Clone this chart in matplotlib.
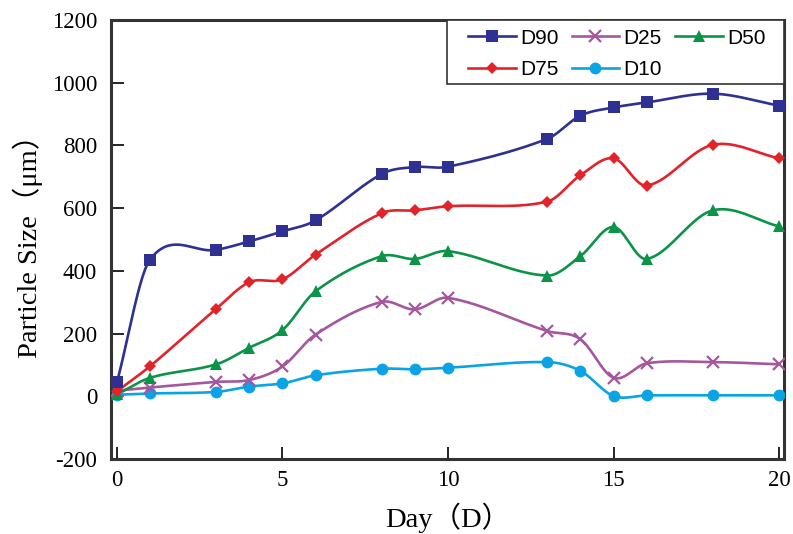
import numpy as np
import matplotlib.pyplot as plt
from matplotlib.patches import Rectangle

plt.rcParams['axes.unicode_minus'] = False

days = [0, 1, 3, 4, 5, 6, 8, 9, 10, 13, 14, 15, 16, 18, 20]
d90 = [45, 436, 467, 494, 526, 561, 709, 731, 732, 821, 895, 921, 937, 965, 927]
d75 = [16, 96, 279, 364, 373, 452, 584, 593, 606, 621, 705, 759, 672, 802, 759]
d50 = [6, 59, 102, 155, 211, 335, 447, 438, 463, 385, 447, 540, 438, 593, 542]
d25 = [18, 28, 46, 52, 95, 197, 301, 277, 314, 208, 182, 59, 105, 109, 102]
d10 = [5, 9, 14, 31, 41, 67, 88, 86, 91, 109, 81, 1, 3, 3, 3]

series = [
    ('D90', d90, '#2e3192', 's', 8.5),
    ('D75', d75, '#e2232a', 'D', 6.5),
    ('D25', d25, '#a4579e', 'x', 9),
    ('D10', d10, '#0aa3e6', 'o', 8.5),
    ('D50', d50, '#0a9447', '^', 9),
]


def smooth(x, y, n=40):
    # cubic hermite through the points, tangents from neighbour differences
    x = np.asarray(x, float)
    y = np.asarray(y, float)
    m = np.zeros_like(y)
    m[1:-1] = (y[2:] - y[:-2]) / (x[2:] - x[:-2])
    m[0] = (y[1] - y[0]) / (x[1] - x[0])
    m[-1] = (y[-1] - y[-2]) / (x[-1] - x[-2])
    xs_all, ys_all = [], []
    for i in range(len(x) - 1):
        h = x[i + 1] - x[i]
        t = np.linspace(0, 1, n)
        h00 = 2 * t ** 3 - 3 * t ** 2 + 1
        h10 = t ** 3 - 2 * t ** 2 + t
        h01 = -2 * t ** 3 + 3 * t ** 2
        h11 = t ** 3 - t ** 2
        xs_all.append(x[i] + t * h)
        ys_all.append(h00 * y[i] + h10 * h * m[i] + h01 * y[i + 1] + h11 * h * m[i + 1])
    return np.concatenate(xs_all), np.concatenate(ys_all)


fig = plt.figure(figsize=(7.93, 5.34), dpi=100)
ax = fig.add_axes([111 / 793, 1 - 459 / 534, 673 / 793, 439 / 534])

draw_order = ['D10', 'D25', 'D50', 'D75', 'D90']
handles = {}
for name, vals, col, mk, ms in sorted(series, key=lambda s: draw_order.index(s[0])):
    xs, ys = smooth(days, vals)
    ax.plot(xs, ys, color=col, lw=1.9, zorder=2)
    mew = 1.6 if mk == 'x' else 0
    ax.plot(days, vals, ls='none', marker=mk, ms=ms, color=col, mew=mew, zorder=3)
    handles[name] = ax.plot([], [], color=col, lw=1.9, marker=mk, ms=ms, mew=mew)[0]

ax.set_xlim(-0.18, 20.15)
ax.set_ylim(-200, 1200)
ax.set_xticks([0, 5, 10, 15, 20])
ax.set_yticks(range(-200, 1201, 200))
ax.tick_params(direction='in', length=9, width=1.2, labelsize=16.5)
ax.tick_params(axis='y', pad=10)
ax.tick_params(axis='x', pad=8)
for lab in ax.get_xticklabels() + ax.get_yticklabels():
    lab.set_family('Liberation Serif')
for sp in ax.spines.values():
    sp.set_linewidth(2.2)
    sp.set_color('#333333')

ax.set_xlabel('Day（D）', fontsize=20.5, family=['Liberation Serif', 'Noto Sans CJK SC'], labelpad=8)
ax.set_ylabel('Particle Size（μm）', fontsize=20.5, family=['Liberation Serif', 'Noto Sans CJK SC'], labelpad=6)

# legend box
fig.patches.append(Rectangle((447 / 793, 1 - 84 / 534), 337 / 793, 64 / 534,
                             transform=fig.transFigure, fill=True, facecolor='white',
                             edgecolor='#333333', lw=1.2, zorder=5))
leg_order = ['D90', 'D75', 'D25', 'D10', 'D50']
leg = fig.legend([handles[n] for n in leg_order], leg_order, ncol=3, loc='upper left',
                 bbox_to_anchor=(468 / 793, 1 - 28.5 / 534), frameon=False,
                 prop={'family': 'Liberation Sans', 'size': 15}, handlelength=2.3,
                 handletextpad=0.2, columnspacing=0.62, labelspacing=0.6,
                 borderpad=0, borderaxespad=0)
leg.set_zorder(6)

fig.savefig('out.png', dpi=100)
